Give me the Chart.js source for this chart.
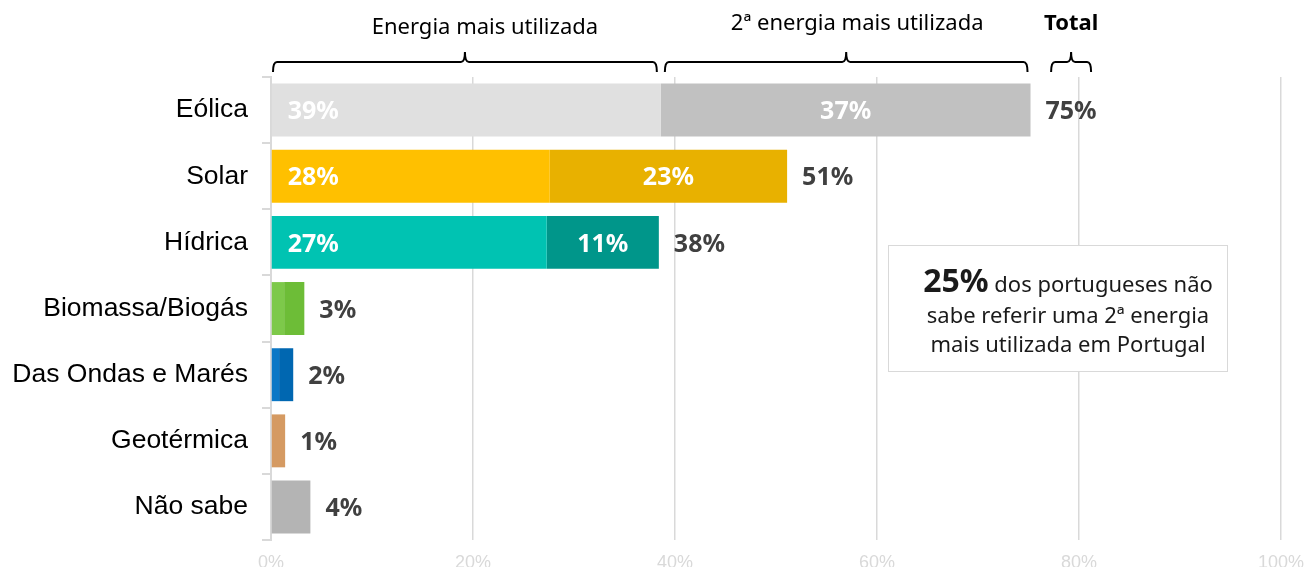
<!DOCTYPE html>
<html>
<head>
<meta charset="utf-8">
<script src="https://cdn.jsdelivr.net/npm/chart.js@4.4.1/dist/chart.umd.min.js"></script>
<style>
  html,body{margin:0;padding:0;background:#fff}
  #wrap{width:1305px;height:570px;position:relative}
</style>
</head>
<body>
<div id="wrap"><canvas id="chart" width="1305" height="570"></canvas></div>
<script>
// ── Data ──
var categories=['Eólica','Solar','Hídrica','Biomassa/Biogás','Das Ondas e Marés','Geotérmica','Não sabe'];
var firstEnergy=[38.6,27.6,27.3,1.3,0.8,1.4,3.9];
var secondEnergy=[36.6,23.5,11.1,2.0,1.4,0,0];
var totals=['75%','51%','38%','3%','2%','1%','4%'];
var firstLabels=['39%','28%','27%','','','',''];
var secondLabels=['37%','23%','11%','','','',''];
var xTicks=[0,20,40,60,80,100];
var firstColors=['#e0e0e0','#ffc000','#00c3b2','#7dc94a','#0a77c6','#d59a62','#b4b4b4'];
var secondColors=['#c1c1c1','#e8b100','#00968a','#6dbd37','#0067b1','#d59a62','#b4b4b4'];

var GRID='#d9d9d9';
var LABEL_FONT='"Noto Sans", "Open Sans", sans-serif';

// ── Header with braces ──
function drawBrace(ctx,x1,x2,y){
  var mid=(x1+x2)/2, r=4;
  ctx.beginPath();
  ctx.moveTo(x1,y+10);
  ctx.quadraticCurveTo(x1,y,x1+r,y);
  ctx.lineTo(mid-r,y);
  ctx.quadraticCurveTo(mid,y,mid,y-10);
  ctx.quadraticCurveTo(mid,y,mid+r,y);
  ctx.lineTo(x2-r,y);
  ctx.quadraticCurveTo(x2,y,x2,y+10);
  ctx.stroke();
}

var labelsPlugin={
  id:'barLabels',
  afterDatasetsDraw:function(chart){
    var ctx=chart.ctx;
    var m0=chart.getDatasetMeta(0), m1=chart.getDatasetMeta(1);
    ctx.save();
    ctx.font='bold 25px '+LABEL_FONT;
    ctx.textBaseline='middle';
    categories.forEach(function(c,i){
      var b0=m0.data[i], b1=m1.data[i];
      var y=b0.y+2;
      if(firstLabels[i]){
        ctx.fillStyle='#fff';ctx.textAlign='left';
        ctx.fillText(firstLabels[i],Math.min(b0.base,b0.x)+16,y);
      }
      if(secondLabels[i]){
        ctx.fillStyle='#fff';ctx.textAlign='center';
        ctx.fillText(secondLabels[i],(b1.base+b1.x)/2,y);
      }
      var end=Math.max(b0.x,b1.x);
      ctx.fillStyle='#404040';ctx.textAlign='left';
      ctx.fillText(totals[i],end+15,y);
    });
    ctx.restore();
  },
  afterDraw:function(chart){
    var ctx=chart.ctx, xs=chart.scales.x;
    var m0=chart.getDatasetMeta(0), m1=chart.getDatasetMeta(1);
    ctx.save();
    ctx.strokeStyle='#000';ctx.lineWidth=2;ctx.fillStyle='#000';
    ctx.textAlign='center';ctx.textBaseline='alphabetic';
    // first energy
    var a1=xs.getPixelForValue(0)+2, a2=m0.data[0].x-4;
    drawBrace(ctx,a1,a2,62);
    ctx.font='22px '+LABEL_FONT;
    ctx.fillText('Energia mais utilizada',(a1+a2)/2+20,34);
    // second energy
    var b1=m0.data[0].x+4, b2=m1.data[0].x-3;
    drawBrace(ctx,b1,b2,62);
    ctx.fillText('2ª energia mais utilizada',(b1+b2)/2+11,30);
    // total
    ctx.font='bold 25px '+LABEL_FONT;
    var tStart=m1.data[0].x+15, tW=ctx.measureText(totals[0]).width;
    var tc=tStart+tW/2;
    drawBrace(ctx,tc-20,tc+20,62);
    ctx.font='bold 22px '+LABEL_FONT;
    ctx.fillText('Total',tc,30);

    // note box
    ctx.fillStyle='#fff';ctx.fillRect(888,245,339,126);
    ctx.strokeStyle=GRID;ctx.lineWidth=1;ctx.strokeRect(888.5,245.5,339,126);
    ctx.fillStyle='#1a1a1a';
    var cx=1068;
    ctx.font='bold 32px '+LABEL_FONT;
    var big='25%', w1=ctx.measureText(big).width;
    ctx.font='22px '+LABEL_FONT;
    var rest=' dos portugueses não', w2=ctx.measureText(rest).width;
    var sx=cx-(w1+w2)/2;
    ctx.textAlign='left';
    ctx.font='bold 32px '+LABEL_FONT;ctx.fillText(big,sx,292);
    ctx.font='22px '+LABEL_FONT;ctx.fillText(rest,sx+w1,292);
    ctx.textAlign='center';
    ctx.fillText('sabe referir uma 2ª energia',cx,323);
    ctx.fillText('mais utilizada em Portugal',cx,352);
    ctx.restore();
  }
};

new Chart(document.getElementById('chart'),{
  type:'bar',
  data:{
    labels:categories,
    datasets:[
      {label:'Energia mais utilizada',data:firstEnergy,backgroundColor:firstColors,borderWidth:0,barPercentage:0.8,categoryPercentage:1},
      {label:'2ª energia mais utilizada',data:secondEnergy,backgroundColor:secondColors,borderWidth:0,barPercentage:0.8,categoryPercentage:1}
    ]
  },
  options:{
    indexAxis:'y',responsive:false,animation:false,
    layout:{padding:{top:77,right:24,left:0,bottom:0}},
    plugins:{legend:{display:false},tooltip:{enabled:false}},
    scales:{
      x:{
        stacked:true,min:0,max:100,
        afterBuildTicks:function(s){s.ticks=xTicks.map(function(v){return {value:v}})},
        grid:{color:GRID,lineWidth:1.5,drawTicks:false},
        border:{display:false},
        ticks:{color:GRID,padding:12,font:{family:'"Liberation Sans", Arial, sans-serif',size:18},callback:function(v){return v+'%'}},
        afterFit:function(s){s.height=27;s.paddingLeft=0;s.paddingRight=0}
      },
      y:{
        stacked:true,
        grid:{drawOnChartArea:false,color:GRID,lineWidth:2,tickLength:9,offset:true},
        border:{color:GRID,width:2},
        ticks:{color:'#000',padding:14,font:{family:'"Liberation Sans", Arial, sans-serif',size:26.5}},
        afterFit:function(s){s.width=271}
      }
    }
  },
  plugins:[labelsPlugin]
});
</script>
</body>
</html>
